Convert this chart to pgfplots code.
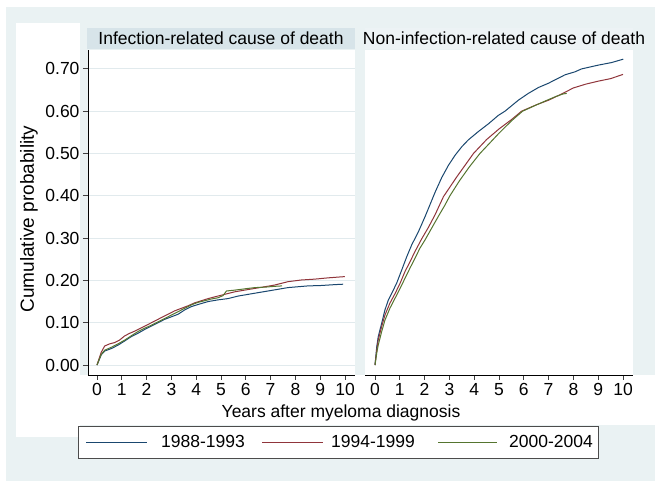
\documentclass[border=0pt]{standalone}
\usepackage{fontspec}
\setmainfont{Liberation Sans}
\usepackage{pgfplots}
\pgfplotsset{compat=1.18}
\definecolor{bgblue}{HTML}{EAF2F3}
\definecolor{titlebg}{HTML}{D7E4E9}
\definecolor{gridc}{HTML}{E1EAED}
\definecolor{snavy}{HTML}{1A476F}
\definecolor{smaroon}{HTML}{90353B}
\definecolor{sgreen}{HTML}{55752F}
\newcommand\cf{\fontsize{17.5}{20}\selectfont}

\pgfplotsset{
  panel/.style={
    scale only axis, anchor=south west,
    height=325pt,
    ymin=-0.0236, ymax=0.7447,
    xtick={0,1,2,3,4,5,6,7,8,9,10},
    ytick={0,0.1,0.2,0.3,0.4,0.5,0.6,0.7},
    ymajorgrids, major grid style={gridc, line width=0.9pt},
    axis background/.style={fill=white},
    axis x line*=bottom,
    axis line style={-, black, line width=0.8pt},
    tick align=outside, major tick length=5pt,
    tick style={black!75, line width=0.8pt},
    ticklabel style={font=\cf},
    /pgf/number format/assume math mode=true,
    clip=false,
  },
  every axis plot/.append style={line width=1pt, sharp plot, no marks},
}

\begin{document}
\begin{tikzpicture}[x=1pt,y=1pt]
\path[use as bounding box] (0pt,0pt) rectangle (663pt,489pt);
\fill[white] (0pt,0pt) rectangle (663pt,489pt);
\fill[bgblue] (6pt,8pt) rectangle (655pt,482pt);
\fill[white] (16pt,52pt) rectangle (80pt,466pt);
\fill[white] (80pt,64pt) rectangle (655pt,114pt);
\fill[titlebg] (87pt,440pt) rectangle (355pt,461pt);
\fill[white!55!titlebg] (365pt,440pt) rectangle (633pt,461pt);
\node[anchor=base, font=\cf, inner sep=0] at (221pt,444pt) {Infection-related cause of death};
\node[anchor=base, font=\cf, inner sep=0] at (504pt,444pt) {Non-infection-related cause of death};

% ---------------- left panel ----------------
\begin{axis}[panel, at={(88pt,114pt)}, width=267pt,
  xmin=-0.363, xmax=10.403,
  axis y line*=left,
  yticklabel style={/pgf/number format/.cd, fixed, fixed zerofill, precision=2},
]
\addplot[snavy] coordinates {(0,0) (0.17,0.024) (0.31,0.033) (0.58,0.039) (0.85,0.047) (1.12,0.057) (1.38,0.067) (1.65,0.075) (1.92,0.084) (2.19,0.092) (2.46,0.100) (2.73,0.108) (3.00,0.114) (3.27,0.120) (3.53,0.130) (3.80,0.138) (4.07,0.143) (4.48,0.150) (4.88,0.154) (5.28,0.157) (5.69,0.163) (6.09,0.167) (6.49,0.171) (6.90,0.175) (7.30,0.179) (7.70,0.183) (8.10,0.185) (8.51,0.187) (9.05,0.188) (9.58,0.190) (9.92,0.191)};
\addplot[smaroon] coordinates {(0,0) (0.17,0.030) (0.31,0.045) (0.51,0.050) (0.71,0.053) (0.91,0.059) (1.12,0.069) (1.32,0.075) (1.52,0.080) (1.79,0.088) (2.06,0.096) (2.33,0.104) (2.59,0.112) (2.86,0.120) (3.13,0.128) (3.40,0.134) (3.67,0.140) (3.94,0.147) (4.21,0.152) (4.48,0.157) (4.74,0.161) (5.01,0.165) (5.28,0.169) (5.55,0.173) (5.95,0.177) (6.36,0.181) (6.76,0.185) (7.16,0.189) (7.43,0.193) (7.70,0.197) (8.24,0.201) (8.78,0.203) (9.31,0.206) (9.99,0.209)};
\addplot[sgreen] coordinates {(0,0) (0.17,0.025) (0.31,0.035) (0.58,0.042) (0.85,0.050) (1.12,0.059) (1.38,0.069) (1.65,0.079) (1.92,0.087) (2.19,0.094) (2.46,0.102) (2.73,0.110) (3.00,0.118) (3.27,0.126) (3.53,0.134) (3.80,0.142) (4.07,0.148) (4.34,0.152) (4.61,0.156) (4.88,0.159) (5.08,0.164) (5.22,0.175) (5.55,0.177) (5.95,0.180) (6.36,0.183) (6.76,0.184) (7.16,0.186) (7.46,0.187)};
\end{axis}

% ---------------- right panel ----------------
\begin{axis}[panel, at={(365pt,114pt)}, width=268pt,
  xmin=-0.403, xmax=10.403,
  axis y line=none, yticklabels={}, ytick style={draw=none},
]
\addplot[snavy] coordinates {(0,0) (0.07,0.043) (0.13,0.067) (0.27,0.099) (0.40,0.130) (0.54,0.154) (0.67,0.169) (0.87,0.193) (1.08,0.225) (1.28,0.256) (1.48,0.284) (1.75,0.315) (2.02,0.351) (2.28,0.388) (2.42,0.408) (2.69,0.443) (2.96,0.472) (3.23,0.496) (3.50,0.516) (3.76,0.532) (4.17,0.552) (4.57,0.570) (4.97,0.590) (5.24,0.600) (5.78,0.626) (6.18,0.642) (6.59,0.656) (6.99,0.666) (7.39,0.678) (7.66,0.686) (8.06,0.693) (8.33,0.700) (9.01,0.709) (9.54,0.715) (10.01,0.723)};
\addplot[smaroon] coordinates {(0,0) (0.07,0.035) (0.13,0.059) (0.27,0.091) (0.40,0.118) (0.60,0.146) (0.81,0.169) (1.01,0.193) (1.21,0.221) (1.41,0.244) (1.61,0.268) (1.88,0.298) (2.15,0.325) (2.42,0.355) (2.76,0.398) (3.30,0.445) (3.97,0.500) (4.50,0.533) (5.00,0.558) (5.50,0.580) (5.91,0.600) (6.50,0.615) (7.00,0.626) (7.50,0.640) (8.00,0.655) (8.50,0.664) (9.00,0.671) (9.50,0.677) (10.00,0.687)};
\addplot[sgreen] coordinates {(0,0) (0.07,0.028) (0.13,0.047) (0.27,0.079) (0.40,0.106) (0.60,0.134) (0.81,0.158) (1.01,0.181) (1.21,0.205) (1.41,0.229) (1.61,0.252) (1.81,0.276) (2.02,0.296) (2.28,0.323) (2.55,0.351) (2.82,0.378) (3.02,0.400) (3.40,0.435) (3.80,0.468) (4.23,0.500) (4.60,0.523) (5.00,0.548) (5.50,0.577) (5.95,0.600) (6.40,0.612) (6.90,0.625) (7.30,0.635) (7.60,0.641) (7.73,0.642)};
\end{axis}

% labels
\node[rotate=90, font=\fontsize{19}{22}\selectfont, inner sep=0] at (29pt,270pt) {Cumulative probability};
\node[anchor=base, font=\cf, inner sep=0] at (341pt,71.5pt) {Years after myeloma diagnosis};

% legend
\draw[fill=white, draw=black!70, line width=0.8pt] (78pt,31pt) rectangle (598pt,63pt);
\draw[snavy, line width=1pt] (86pt,46pt) -- (147pt,46pt);
\node[anchor=base west, font=\cf, inner sep=0] at (161pt,41pt) {1988-1993};
\draw[smaroon, line width=1pt] (262pt,46pt) -- (323pt,46pt);
\node[anchor=base west, font=\cf, inner sep=0] at (331pt,41pt) {1994-1999};
\draw[sgreen, line width=1pt] (438pt,46pt) -- (497pt,46pt);
\node[anchor=base west, font=\cf, inner sep=0] at (509pt,41pt) {2000-2004};
\end{tikzpicture}
\end{document}
